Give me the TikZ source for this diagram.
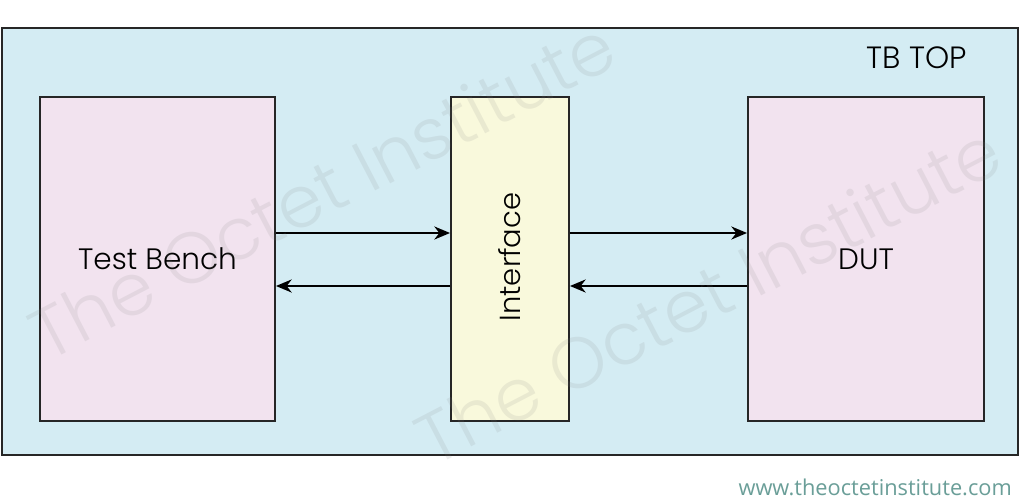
\documentclass[tikz,border=0pt]{standalone}
\usepackage{fontspec}
\setmainfont{Poppins Light}
\newfontfamily\urlfont{Open Sans}
\usetikzlibrary{arrows.meta,positioning}
\definecolor{topblue}{HTML}{D4ECF3}
\definecolor{tbpink}{HTML}{F2E3EF}
\definecolor{ifyellow}{HTML}{F9F9DC}
\definecolor{urlgreen}{HTML}{6A9E98}
\tikzset{block/.style={draw=black!85, line width=1.1pt, inner sep=0pt, font=\fontsize{16.8}{20}\selectfont},
  link/.style={-{Stealth[length=9pt,width=7.5pt]}, line width=0.8pt},
  wmark/.style={text=gray, text opacity=0.13, font=\fontsize{41}{48}\selectfont, rotate=27.5}}
\begin{document}
\begin{tikzpicture}[x=0.02cm,y=0.02cm]
\useasboundingbox (0,0) rectangle (1027,501);
\fill[white] (0,0) rectangle (1027,501);

\node[block, fill=topblue, minimum width=1016*0.02cm, minimum height=427*0.02cm] (top) at (510,259.5) {};
\node[font=\fontsize{17.5}{20}\selectfont, anchor=east] (toplabel) at (973,443) {TB TOP};

\node[block, fill=tbpink, minimum width=235*0.02cm, minimum height=324*0.02cm] (tb) at (157.5,242) {Test Bench};
\node[block, fill=ifyellow, minimum width=118*0.02cm, minimum height=324*0.02cm] (intf) at (510,242) {};
\node[rotate=90, font=\fontsize{16.5}{20}\selectfont] (intflabel) at (510,244) {Interface};
\node[block, fill=tbpink, minimum width=236*0.02cm, minimum height=324*0.02cm] (dut) at (866,242) {DUT};

% arrows
\draw[link] (tb.east |- 0,268) -- (intf.west |- 0,268);
\draw[link] (intf.west |- 0,215) -- (tb.east |- 0,215);
\draw[link] (intf.east |- 0,268) -- (dut.west |- 0,268);
\draw[link] (dut.west |- 0,215) -- (intf.east |- 0,215);

% watermark
\node[wmark] (wm1) at (322,312) {The Octet Institute};
\node[wmark] (wm2) at (708,207) {The Octet Institute};

\node[text=urlgreen, font=\urlfont\fontsize{12.4}{15}\selectfont, anchor=east] (url) at (1018,14) {www.theoctetinstitute.com};
\end{tikzpicture}
\end{document}
